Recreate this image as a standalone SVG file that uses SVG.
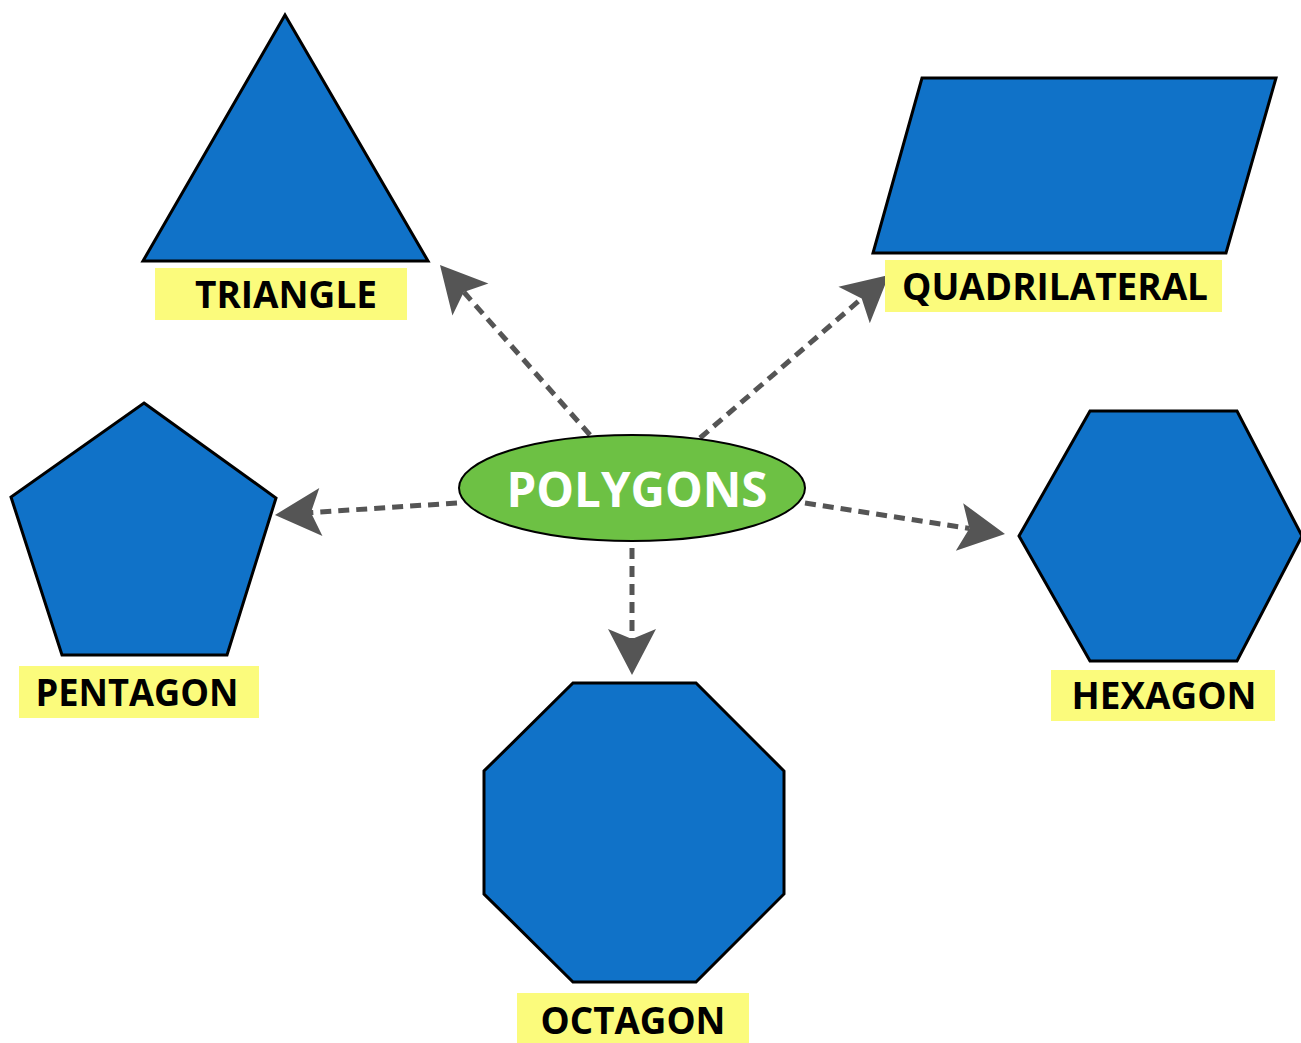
<svg xmlns="http://www.w3.org/2000/svg" width="1301" height="1043" viewBox="0 0 1301 1043">
<style>
.shape{fill:#1072C8;stroke:#000;stroke-width:3;stroke-linejoin:miter}
.lbl{fill:#FBFB7C}
.lt{font-family:"Open Sans","Liberation Sans",sans-serif;font-weight:bold;font-size:38px;fill:#000;text-anchor:middle}
.conn{stroke:#555;stroke-width:5;stroke-dasharray:11 7;fill:none}
</style>
<defs>
<marker id="ah" markerUnits="userSpaceOnUse" markerWidth="60" markerHeight="60" viewBox="-50 -30 60 60" refX="-36" refY="0" orient="auto">
<path d="M0,0 L-46,-24 L-36,0 L-46,24 Z" fill="#555"/>
</marker>
</defs>
<rect width="1301" height="1043" fill="#fff"/>
<g id="connectors">
<line class="conn" x1="590" y1="435" x2="463.8" y2="292" marker-end="url(#ah)"/>
<line class="conn" x1="700" y1="438" x2="861.7" y2="298.5" marker-end="url(#ah)"/>
<line class="conn" x1="457" y1="503" x2="310.9" y2="512.6" marker-end="url(#ah)"/>
<line class="conn" x1="805" y1="503" x2="969.4" y2="528.5" marker-end="url(#ah)"/>
<line class="conn" x1="632" y1="548" x2="632" y2="639" marker-end="url(#ah)"/>
</g>
<g id="polygons">
<ellipse cx="632" cy="488" rx="173" ry="53" fill="#6DC144" stroke="#000" stroke-width="2"/>
<text x="637" y="507" font-family="'Open Sans','Liberation Sans',sans-serif" font-weight="bold" font-size="48" fill="#fff" text-anchor="middle" textLength="261" lengthAdjust="spacingAndGlyphs">POLYGONS</text>
</g>
<g id="triangle">
<polygon class="shape" points="285,15 428,261 143,261"/>
<rect class="lbl" x="155" y="268" width="252" height="52"/>
<text class="lt" x="286" y="308" textLength="182" lengthAdjust="spacingAndGlyphs">TRIANGLE</text>
</g>
<g id="quadrilateral">
<polygon class="shape" points="922,78 1276,78 1226,253 873,253"/>
<rect class="lbl" x="885" y="260" width="337" height="52"/>
<text class="lt" x="1055" y="300" textLength="306" lengthAdjust="spacingAndGlyphs">QUADRILATERAL</text>
</g>
<g id="pentagon">
<polygon class="shape" points="144,403 276,498 227,655 62,655 11,497"/>
<rect class="lbl" x="19" y="666" width="240" height="52"/>
<text class="lt" x="137" y="706" textLength="203" lengthAdjust="spacingAndGlyphs">PENTAGON</text>
</g>
<g id="hexagon">
<polygon class="shape" points="1090,411 1237,411 1302,536 1237,661 1090,661 1019,536"/>
<rect class="lbl" x="1051" y="670" width="224" height="51"/>
<text class="lt" x="1164" y="709" textLength="185" lengthAdjust="spacingAndGlyphs">HEXAGON</text>
</g>
<g id="octagon">
<polygon class="shape" points="573,683 696,683 784,771 784,894 696,982 573,982 484,894 484,771"/>
<rect class="lbl" x="517" y="993" width="232" height="50"/>
<text class="lt" x="633" y="1034" textLength="185" lengthAdjust="spacingAndGlyphs">OCTAGON</text>
</g>
</svg>
